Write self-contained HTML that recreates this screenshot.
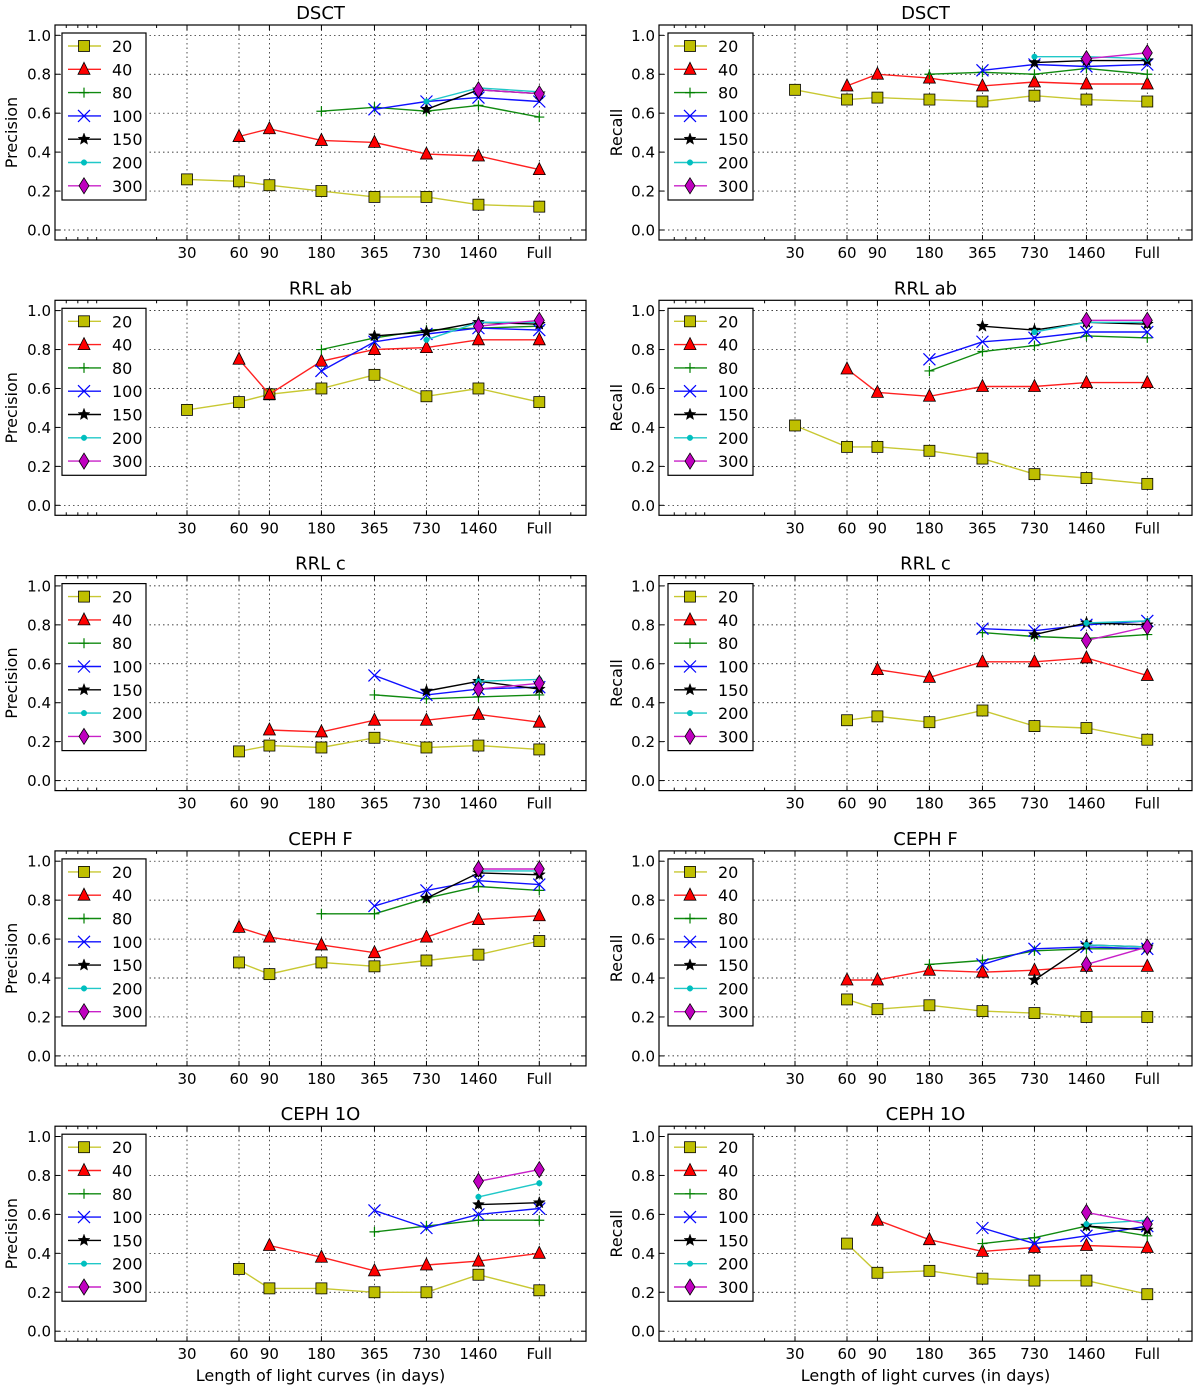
<!DOCTYPE html>
<html><head><meta charset="utf-8"><style>
body{margin:0;background:#fff;}
svg{display:block;font-family:"DejaVu Sans","Liberation Sans",sans-serif;}
</style></head><body>
<svg id="fig" width="1200" height="1386" viewBox="0 0 1200 1386" xmlns="http://www.w3.org/2000/svg"></svg>
<script>
const categories = ["30","60","90","180","365","730","1460","Full"];
const categoryDays = [30,60,90,180,365,730,1460,3285];
const seriesNames = ["20","40","80","100","150","200","300"];
const yTicks = [0.0,0.2,0.4,0.6,0.8,1.0];
const panelTitles = ["DSCT","DSCT","RRL ab","RRL ab","RRL c","RRL c","CEPH F","CEPH F","CEPH 1O","CEPH 1O"];
const n = null;
const dsctP = [[.26,.25,.23,.20,.17,.17,.13,.12],[n,.48,.52,.46,.45,.39,.38,.31],[n,n,n,.61,.63,.61,.64,.58],[n,n,n,n,.62,.66,.68,.66],[n,n,n,n,n,.62,.72,.70],[n,n,n,n,n,.66,.73,.71],[n,n,n,n,n,n,.72,.70]];
const dsctR = [[.72,.67,.68,.67,.66,.69,.67,.66],[n,.74,.80,.78,.74,.76,.75,.75],[n,n,n,.80,.81,.80,.83,.80],[n,n,n,n,.82,.85,.84,.85],[n,n,n,n,n,.86,.87,.87],[n,n,n,n,n,.89,.89,.88],[n,n,n,n,n,n,.88,.91]];
const rrlabP = [[.49,.53,.57,.60,.67,.56,.60,.53],[n,.75,.57,.74,.80,.81,.85,.85],[n,n,n,.80,.86,.90,.91,.92],[n,n,n,.69,.84,.88,.91,.90],[n,n,n,n,.87,.89,.94,.93],[n,n,n,n,n,.85,.94,.94],[n,n,n,n,n,n,.92,.95]];
const rrlabR = [[.41,.30,.30,.28,.24,.16,.14,.11],[n,.70,.58,.56,.61,.61,.63,.63],[n,n,n,.69,.79,.82,.87,.86],[n,n,n,.75,.84,.86,.89,.89],[n,n,n,n,.92,.90,.94,.93],[n,n,n,n,n,.89,.94,.94],[n,n,n,n,n,n,.95,.95]];
const rrlcP = [[n,.15,.18,.17,.22,.17,.18,.16],[n,n,.26,.25,.31,.31,.34,.30],[n,n,n,n,.44,.42,.43,.44],[n,n,n,n,.54,.44,.47,.48],[n,n,n,n,n,.46,.51,.47],[n,n,n,n,n,n,.51,.52],[n,n,n,n,n,n,.47,.50]];
const rrlcR = [[n,.31,.33,.30,.36,.28,.27,.21],[n,n,.57,.53,.61,.61,.63,.54],[n,n,n,n,.76,.74,.73,.75],[n,n,n,n,.78,.77,.80,.82],[n,n,n,n,n,.75,.81,.80],[n,n,n,n,n,n,.81,.82],[n,n,n,n,n,n,.72,.79]];
const cephfP = [[n,.48,.42,.48,.46,.49,.52,.59],[n,.66,.61,.57,.53,.61,.70,.72],[n,n,n,.73,.73,.81,.87,.85],[n,n,n,n,.77,.85,.90,.88],[n,n,n,n,n,.81,.94,.93],[n,n,n,n,n,n,.95,.95],[n,n,n,n,n,n,.96,.96]];
const cephfR = [[n,.29,.24,.26,.23,.22,.20,.20],[n,.39,.39,.44,.43,.44,.46,.46],[n,n,n,.47,.49,.54,.55,.55],[n,n,n,n,.47,.55,.56,.55],[n,n,n,n,n,.39,.57,.56],[n,n,n,n,n,n,.57,.56],[n,n,n,n,n,n,.47,.56]];
const ceph1oP = [[n,.32,.22,.22,.20,.20,.29,.21],[n,n,.44,.38,.31,.34,.36,.40],[n,n,n,n,.51,.54,.57,.57],[n,n,n,n,.62,.53,.60,.63],[n,n,n,n,n,n,.65,.66],[n,n,n,n,n,n,.69,.76],[n,n,n,n,n,n,.77,.83]];
const ceph1oR = [[n,.45,.30,.31,.27,.26,.26,.19],[n,n,.57,.47,.41,.43,.44,.43],[n,n,n,n,.45,.48,.54,.49],[n,n,n,n,.53,.45,.49,.54],[n,n,n,n,n,n,.54,.52],[n,n,n,n,n,n,.55,.57],[n,n,n,n,n,n,.61,.55]];
const panelData = [dsctP,dsctR,rrlabP,rrlabR,rrlcP,rrlcR,cephfP,cephfR,ceph1oP,ceph1oR];

const colors = ["#bfbf00","#ff0000","#008000","#0000ff","#000000","#00bfbf","#bf00bf"];
const lineColors = ["#c8c832","#ff2020","#108a10","#1010ff","#000000","#20c8c8","#c820c8"];
const NS="http://www.w3.org/2000/svg";
const svg=document.getElementById('fig');
function mk(tag,attrs,parent){const e=document.createElementNS(NS,tag);for(const k in attrs)e.setAttribute(k,attrs[k]);(parent||svg).appendChild(e);return e;}

function marker(g,i,x,y){
  const ec="#000";let m;
  if(i===0){m=mk('rect',{x:x-5.5,y:y-5.5,width:11,height:11,fill:colors[0],stroke:ec,'stroke-width':0.8},g);}
  else if(i===1){m=mk('polygon',{points:`${x},${y-7} ${x+6},${y+5} ${x-6},${y+5}`,fill:colors[1],stroke:ec,'stroke-width':0.8},g);}
  else if(i===2){m=mk('path',{d:`M${x-5} ${y}H${x+5}M${x} ${y-5}V${y+5}`,stroke:colors[2],'stroke-width':1.2,fill:'none'},g);}
  else if(i===3){m=mk('path',{d:`M${x-6} ${y-6}L${x+6} ${y+6}M${x-6} ${y+6}L${x+6} ${y-6}`,stroke:colors[3],'stroke-width':1.2,fill:'none'},g);}
  else if(i===4){let p=[];for(let k=0;k<10;k++){const r=k%2?2.6:6.2;const a=-Math.PI/2+k*Math.PI/5;p.push((x+r*Math.cos(a)).toFixed(1)+','+(y+r*Math.sin(a)).toFixed(1));}
    m=mk('polygon',{points:p.join(' '),fill:'#000',stroke:'#000','stroke-width':0.5},g);}
  else if(i===5){m=mk('circle',{cx:x,cy:y,r:2.8,fill:colors[5],stroke:colors[5],'stroke-width':0.5},g);}
  else {m=mk('polygon',{points:`${x},${y-8} ${x+5},${y} ${x},${y+8} ${x-5},${y}`,fill:colors[6],stroke:ec,'stroke-width':0.8},g);}
  
  
}

for(let p=0;p<10;p++){
  const col=p%2,row=Math.floor(p/2);
  const x0=col?659:55, x1=col?1192:586, org=col?795:187;
  const top=25+row*275.3, bot=top+215;
  const xs=v=>org+52*Math.log2(v/30);
  const ys=v=>top+10.3+(1-v)*194.7;
  const g=mk('g',{});
  
  
  for(const t of yTicks){const l=mk('line',{x1:x0,x2:x1,y1:ys(t),y2:ys(t),stroke:'#000','stroke-width':0.7,'stroke-dasharray':'1.5,3'},g);
    }
  categoryDays.forEach(d=>{const l=mk('line',{x1:xs(d),x2:xs(d),y1:top,y2:bot,stroke:'#000','stroke-width':0.7,'stroke-dasharray':'1.5,3'},g);
    });
  panelData[p].forEach((vals,i)=>{
    const sg=mk('g',{},g);
    
    
    let pts=[];
    vals.forEach((v,k)=>{if(v!==null)pts.push([xs(categoryDays[k]),ys(v)]);});
    if(pts.length>1){const pl=mk('polyline',{points:pts.map(q=>q[0].toFixed(1)+','+q[1].toFixed(1)).join(' '),fill:'none',stroke:lineColors[i],'stroke-width':1.4},sg);
      }
    pts.forEach(q=>marker(sg,i,q[0],q[1]));
  });
  const fr=mk('rect',{x:x0,y:top,width:x1-x0,height:bot-top,fill:'none',stroke:'#000','stroke-width':1.2},g);
  
  for(const t of yTicks){const y=ys(t);
    mk('line',{x1:x0,x2:x0+5,y1:y,y2:y,stroke:'#000'},g);mk('line',{x1:x1,x2:x1-5,y1:y,y2:y,stroke:'#000'},g);
    const tx=mk('text',{x:x0-4,y:y+5.5,'text-anchor':'end','font-size':15},g);tx.textContent=t.toFixed(1);
    }
  categoryDays.forEach((d,k)=>{const x=xs(d);
    mk('line',{x1:x,x2:x,y1:bot,y2:bot-5,stroke:'#000'},g);mk('line',{x1:x,x2:x,y1:top,y2:top+5,stroke:'#000'},g);
    const tx=mk('text',{x:x,y:bot+18,'text-anchor':'middle','font-size':15},g);tx.textContent=categories[k];
    });
  [6,7,8,9,20,5000].forEach(d=>{const x=xs(d);
    mk('line',{x1:x,x2:x,y1:bot,y2:bot-3,stroke:'#000'},g);mk('line',{x1:x,x2:x,y1:top,y2:top+3,stroke:'#000'},g);});
  const ti=mk('text',{x:(x0+x1)/2,y:top-6,'text-anchor':'middle','font-size':18},g);ti.textContent=panelTitles[p];
  
  const lx=col?622:17, ly=(top+bot)/2;
  const yl=mk('text',{x:lx,y:ly,'text-anchor':'middle','font-size':16,transform:`rotate(-90 ${lx} ${ly})`},g);yl.textContent=col?'Recall':'Precision';
  
  if(row===4){const xl=mk('text',{x:(x0+x1)/2,y:1381,'text-anchor':'middle','font-size':16},g);xl.textContent='Length of light curves (in days)';
    }
  const lg=mk('g',{},g);
  
  
  const bx=x0+(col?9:7), by=top+8;
  mk('rect',{x:bx,y:by,width:col?85:84,height:167,fill:'#fff',stroke:'#000','stroke-width':1.2},lg);
  seriesNames.forEach((s,i)=>{const y=by+13+i*23.3;
    const eg=mk('g',{},lg);
    
    
    mk('line',{x1:bx+6,x2:bx+39,y1:y,y2:y,stroke:lineColors[i],'stroke-width':1.4},eg);
    marker(eg,i,bx+22,y);
    const t=mk('text',{x:bx+50,y:y+6,'font-size':16},eg);t.textContent=s;});
}
</script>
</body></html>
